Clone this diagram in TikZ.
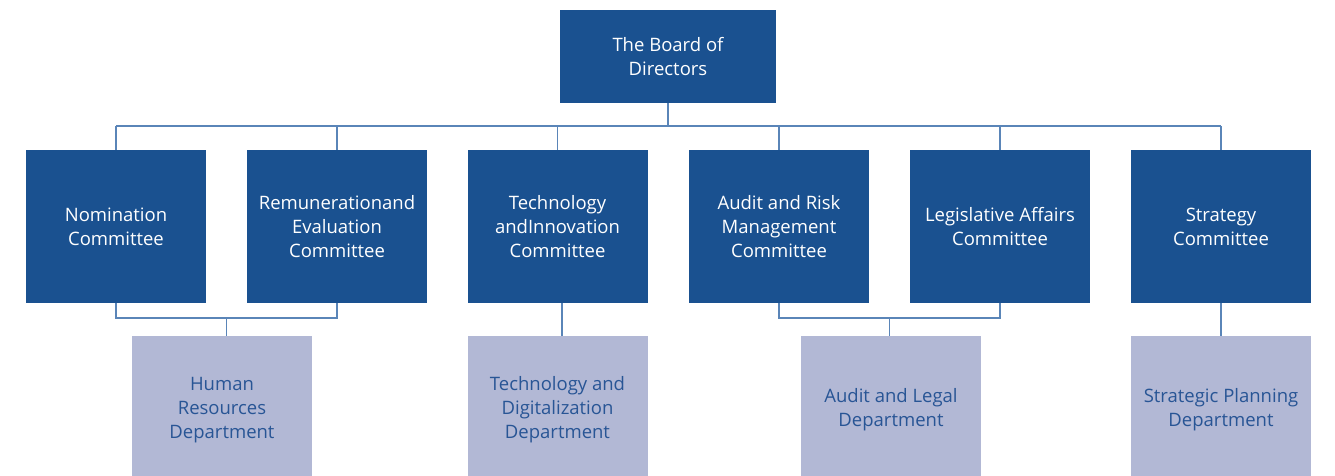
\documentclass[tikz,border=0pt]{standalone}
\usepackage{fontspec}
\setmainfont{Open Sans}
\usepackage{xcolor}
\definecolor{boardblue}{HTML}{1A5190}
\definecolor{deptgray}{HTML}{B2B8D5}
\definecolor{linkblue}{HTML}{5A85B8}
\definecolor{depttext}{HTML}{285595}

\begin{document}
\begin{tikzpicture}[x=1pt,y=-1pt]
        \tikzset{
          box/.style={rectangle, inner sep=0pt, align=center, font=\fontsize{18.5}{24}\selectfont},
          board/.style={box, fill=boardblue, text=white, minimum width=216pt, minimum height=93pt},
          comm/.style={box, fill=boardblue, text=white, minimum width=180pt, minimum height=153pt},
          dept/.style={box, fill=deptgray, text=depttext, minimum width=180pt, minimum height=148pt},
          link/.style={draw=linkblue, line width=1.6pt}
        }
        \useasboundingbox (0,0) rectangle (1335,475);

        % — board —
        \node[board] (bod) at (668,56.5) {The Board of\\Directors};

        % — committees —
        \node[comm] (c1) at (116,226.5)  {Nomination\\Committee};
        \node[comm] (c2) at (337,226.5)  {Remunerationand\\Evaluation\\Committee};
        \node[comm] (c3) at (557.5,226.5) {Technology\\andInnovation\\Committee};
        \node[comm] (c4) at (779,226.5)  {Audit and Risk\\Management\\Committee};
        \node[comm] (c5) at (1000,226.5) {Legislative Affairs\\Committee};
        \node[comm] (c6) at (1221,226.5) {Strategy\\Committee};

        % — departments (cut off at the bottom) —
        \node[dept] (hr)   at (222,410)   {Human\\Resources\\Department};
        \node[dept] (tdep) at (557.5,410) {Technology and\\Digitalization\\Department};
        \node[dept] (adep) at (891,410)   {Audit and Legal\\Department};
        \node[dept] (sdep) at (1221,410)  {Strategic Planning\\Department};

        % — board to committees —
        \coordinate (bus) at (0,126);
        \draw[link] (bod.south) -- (bod.south |- bus);
        \draw[link] (c1.north |- bus) -- (c6.north |- bus);
        \foreach \i in {1,...,6} {
          \draw[link] (c\i.north) -- (c\i.north |- bus);
        }

        % — committees to departments —
        \coordinate (low) at (0,318);
        \draw[link] (c1.south) |- (c2.south |- low) -- (c2.south);
        \path (c1.south |- low) -- (c2.south |- low) coordinate[pos=0.5] (jhr);
        \draw[link] (jhr) -- (jhr |- hr.north);
        \draw[link] ([xshift=4.5pt]c3.south) -- ([xshift=4.5pt]tdep.north);
        \draw[link] (c4.south) |- (c5.south |- low) -- (c5.south);
        \path (c4.south |- low) -- (c5.south |- low) coordinate[pos=0.5] (jaud);
        \draw[link] (jaud) -- (jaud |- adep.north);
        \draw[link] (c6.south) -- (sdep.north);
\end{tikzpicture}
\end{document}
